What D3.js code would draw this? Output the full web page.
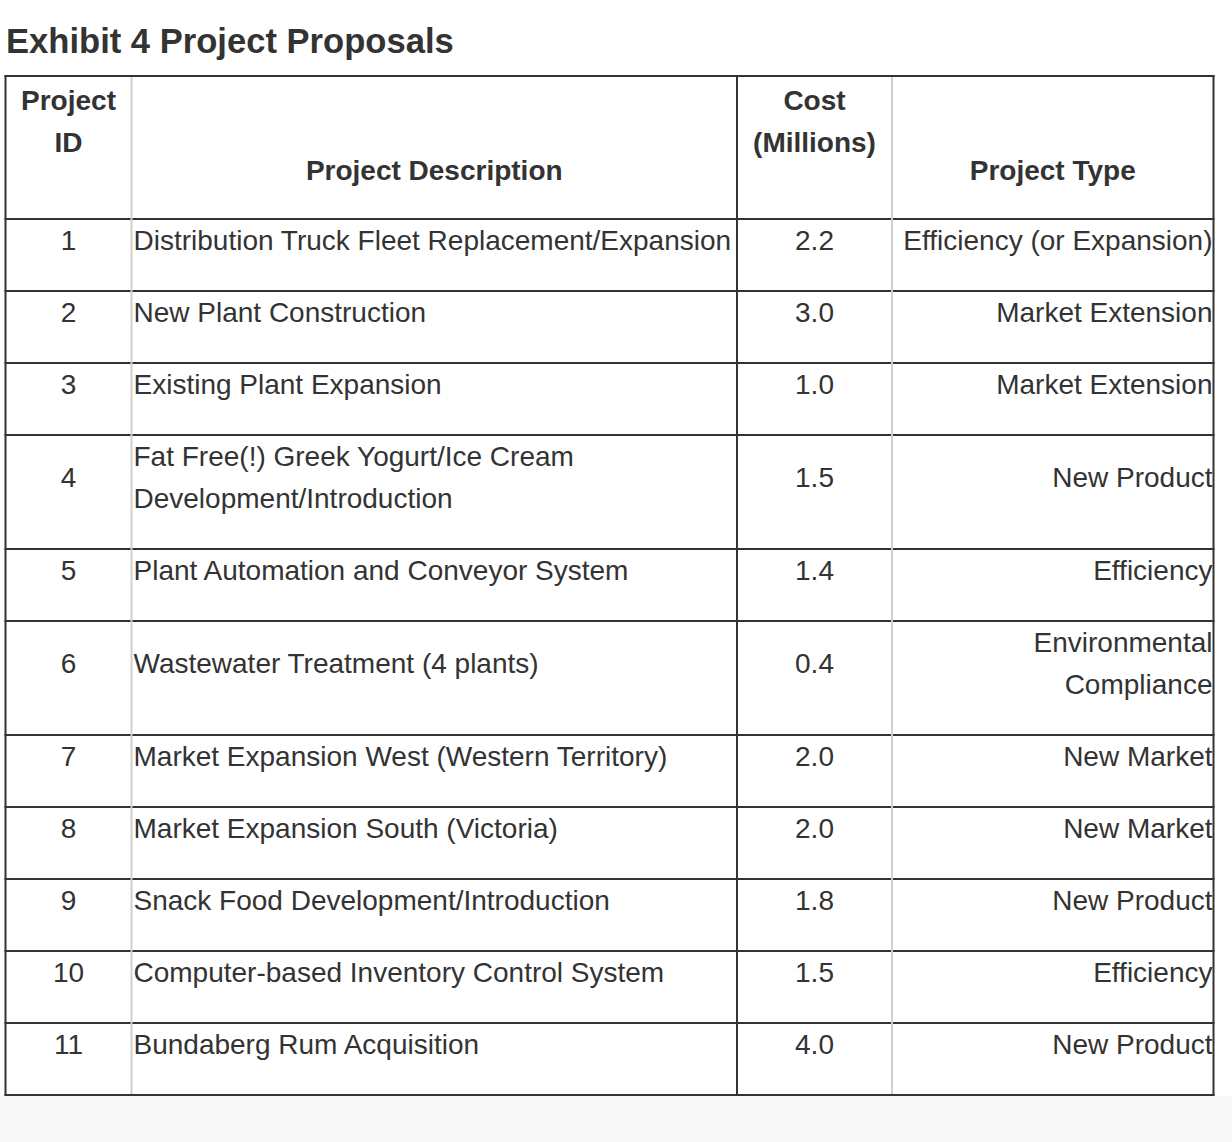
<!DOCTYPE html>
<html lang="en">
<head>
<meta charset="utf-8">
<title>Exhibit 4 Project Proposals</title>
<script src="https://cdn.jsdelivr.net/npm/d3@7"></script>
<style>
	body { margin: 0; overflow: hidden; background: #fff; }
	text { font-family: "Liberation Sans", Arial, Helvetica, sans-serif; fill: #333; }
	.title { font-size: 34.6px; font-weight: bold; }
	.head { font-size: 28px; font-weight: bold; }
	.cell { font-size: 28px; }
</style>
</head>
<body>
<script>
// table content
const headers = [["Project", "ID"], ["Project Description"], ["Cost", "(Millions)"], ["Project Type"]];
const ids = ["1", "2", "3", "4", "5", "6", "7", "8", "9", "10", "11"];
const descriptions = [
	["Distribution Truck Fleet Replacement/Expansion"],
	["New Plant Construction"],
	["Existing Plant Expansion"],
	["Fat Free(!) Greek Yogurt/Ice Cream", "Development/Introduction"],
	["Plant Automation and Conveyor System"],
	["Wastewater Treatment (4 plants)"],
	["Market Expansion West (Western Territory)"],
	["Market Expansion South (Victoria)"],
	["Snack Food Development/Introduction"],
	["Computer-based Inventory Control System"],
	["Bundaberg Rum Acquisition"]
];
const costs = [2.2, 3.0, 1.0, 1.5, 1.4, 0.4, 2.0, 2.0, 1.8, 1.5, 4.0];
const types = [
	["Efficiency (or Expansion)"],
	["Market Extension"],
	["Market Extension"],
	["New Product"],
	["Efficiency"],
	["Environmental", "Compliance"],
	["New Market"],
	["New Market"],
	["New Product"],
	["Efficiency"],
	["New Product"]
];

const width = 1232, height = 1142;
const tableTop = 76, headerH = 143, lineH = 42, padBottom = 30;
const colEdges = [5.5, 131.5, 737, 892, 1213.5];
const colLine = ["#333", "#cfcfcf", "#333", "#cfcfcf", "#333"];
const dark = "#333";

const fmt = d3.format(".1f");

const rows = ids.map((id, i) => {
	const cells = [[id], descriptions[i], [fmt(costs[i])], types[i]];
	const n = d3.max(cells, c => c.length);
	return { cells, h: n * lineH + padBottom };
});
const rowTops = [tableTop + headerH];
rows.forEach((r, i) => rowTops.push(rowTops[i] + r.h));
const tableBottom = rowTops[rowTops.length - 1];

const svg = d3.select("body").append("svg")
	.attr("width", width)
	.attr("height", height);

svg.append("rect").attr("width", width).attr("height", height).attr("fill", "#fff");
svg.append("rect")
	.attr("y", tableBottom + 1)
	.attr("width", width)
	.attr("height", height - tableBottom - 1)
	.attr("fill", "#f8f8f8");

svg.append("text")
	.attr("class", "title")
	.attr("x", 6)
	.attr("y", 53)
	.text("Exhibit 4 Project Proposals");

// horizontal column anchors
const anchor = [
	{ x: (colEdges[0] + colEdges[1]) / 2, a: "middle" },
	{ x: colEdges[1] + 2, a: "start" },
	{ x: (colEdges[2] + colEdges[3]) / 2, a: "middle" },
	{ x: colEdges[4] - 1, a: "end" }
];
const headAnchor = [0, 1, 2, 3].map(j => (colEdges[j] + colEdges[j + 1]) / 2);

// header
const hg = svg.append("g");
headers.forEach((lines, j) => {
	lines.forEach((t, k) => {
		const y = lines.length > 1 ? tableTop + 34 + k * lineH : tableTop + 104;
		hg.append("text")
			.attr("class", "head")
			.attr("x", headAnchor[j])
			.attr("y", y)
			.attr("text-anchor", "middle")
			.text(t);
	});
});

// body rows
const rg = svg.selectAll("g.row")
	.data(rows)
	.join("g")
	.attr("class", "row");

rg.each(function (r, i) {
	const g = d3.select(this);
	const mid = rowTops[i] + (r.h - padBottom) / 2;
	r.cells.forEach((lines, j) => {
		lines.forEach((t, k) => {
			g.append("text")
				.attr("class", "cell")
				.attr("x", anchor[j].x)
				.attr("y", mid + (k - (lines.length - 1) / 2) * lineH + 10)
				.attr("text-anchor", anchor[j].a)
				.text(t);
		});
	});
});

// grid lines
const lg = svg.append("g");
lg.selectAll("line.h")
	.data([tableTop].concat(rowTops))
	.join("line")
	.attr("class", "h")
	.attr("x1", colEdges[0] - 1)
	.attr("x2", colEdges[4] + 1)
	.attr("y1", d => d)
	.attr("y2", d => d)
	.attr("stroke", dark)
	.attr("stroke-width", 2);

lg.selectAll("line.v")
	.data(colEdges)
	.join("line")
	.attr("class", "v")
	.attr("x1", d => d)
	.attr("x2", d => d)
	.attr("y1", (d, i) => (colLine[i] === dark ? tableTop - 1 : tableTop + 1))
	.attr("y2", (d, i) => (colLine[i] === dark ? tableBottom + 1 : tableBottom - 1))
	.attr("stroke", (d, i) => colLine[i])
	.attr("stroke-width", 2);
</script>
</body>
</html>
